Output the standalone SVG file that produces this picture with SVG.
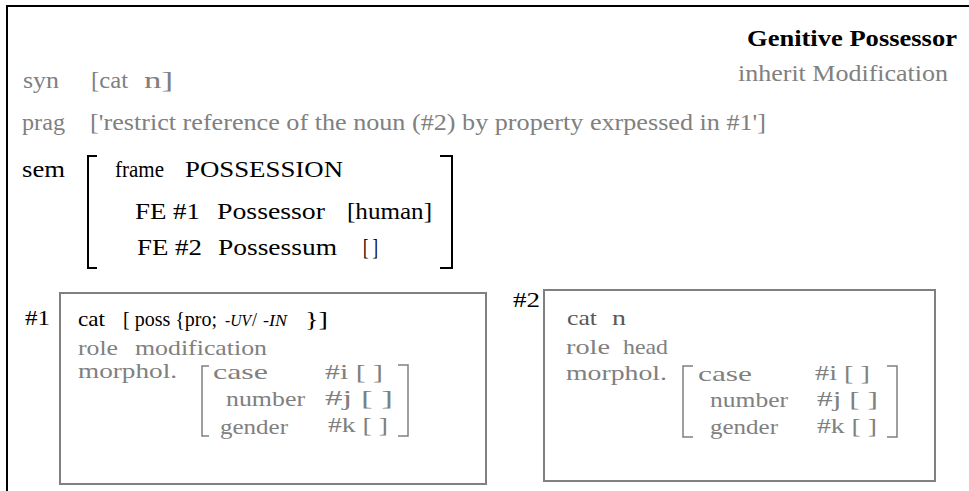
<svg xmlns="http://www.w3.org/2000/svg" width="969" height="491" viewBox="0 0 969 491">
<style>
text{font-family:"Liberation Serif","Times New Roman",serif;font-size:24px;}
.n text{font-size:22px;}
.k{fill:#000;}
.g{fill:#808080;}
.d{fill:#595959;}
.b{font-weight:bold;font-size:24px;}
.n .it{font-style:italic;font-size:16px;}
.frame{fill:none;stroke:#000;stroke-width:2;}
.br{fill:none;stroke:#000;stroke-width:2;}
.gbr{fill:none;stroke:#808080;stroke-width:1.5;}
.box{fill:none;stroke:#808080;stroke-width:2;}
</style>
<rect width="969" height="491" fill="#fff"/>
<g id="frame">
<path class="frame" d="M7 491 V6 H969"/>
</g>
<g id="header">
<text class="k b" x="747" y="46" textLength="210" lengthAdjust="spacingAndGlyphs">Genitive Possessor</text>
<text class="g" x="738" y="81" textLength="210" lengthAdjust="spacingAndGlyphs">inherit Modification</text>
</g>
<g id="syn">
<text class="g" x="23" y="88" textLength="36" lengthAdjust="spacingAndGlyphs">syn</text>
<text class="g" x="91" y="88" textLength="37" lengthAdjust="spacingAndGlyphs">[cat</text>
<text class="g" x="144" y="88" textLength="29" lengthAdjust="spacingAndGlyphs">n]</text>
</g>
<g id="prag">
<text class="g" x="22" y="130" textLength="43" lengthAdjust="spacingAndGlyphs">prag</text>
<text class="g" x="90" y="130" textLength="676" lengthAdjust="spacingAndGlyphs">['restrict reference of the noun (#2) by property exrpessed in #1']</text>
</g>
<g id="sem">
<text class="k" x="22" y="177" textLength="43" lengthAdjust="spacingAndGlyphs">sem</text>
<path class="br" d="M97 156 H88 V268 H97"/>
<path class="br" d="M440 156 H452 V268 H440"/>
<text class="k" x="115" y="177" textLength="49" lengthAdjust="spacingAndGlyphs">frame</text>
<text class="k" x="185" y="177" textLength="158" lengthAdjust="spacingAndGlyphs">POSSESSION</text>
<text class="k" x="135" y="219" textLength="65" lengthAdjust="spacingAndGlyphs">FE #1</text>
<text class="k" x="217" y="219" textLength="108" lengthAdjust="spacingAndGlyphs">Possessor</text>
<text class="k" x="347" y="219" textLength="85" lengthAdjust="spacingAndGlyphs">[human]</text>
<text class="k" x="137" y="255" textLength="65" lengthAdjust="spacingAndGlyphs">FE #2</text>
<text class="k" x="218" y="255" textLength="119" lengthAdjust="spacingAndGlyphs">Possessum</text>
<text class="k" x="363" y="255" textLength="15" lengthAdjust="spacingAndGlyphs">[ ]</text>
</g>
<g id="node1" class="n">
<text class="k" x="25" y="325" textLength="25" lengthAdjust="spacingAndGlyphs">#1</text>
<rect class="box" x="60" y="293" width="426" height="191"/>
<text class="k" x="78" y="326" textLength="27" lengthAdjust="spacingAndGlyphs">cat</text>
<text class="k" x="123" y="326" textLength="94" lengthAdjust="spacingAndGlyphs">[ poss {pro;</text>
<text class="k it" x="225" y="326" textLength="26" lengthAdjust="spacingAndGlyphs">-UV</text>
<text class="k" x="252" y="326" style="font-size:18px">/</text>
<text class="k it" x="263" y="326" textLength="24" lengthAdjust="spacingAndGlyphs">-IN</text>
<text class="k" x="305" y="326" textLength="23" lengthAdjust="spacingAndGlyphs">}]</text>
<text class="g" x="78" y="355" textLength="40" lengthAdjust="spacingAndGlyphs">role</text>
<text class="g" x="135" y="355" textLength="132" lengthAdjust="spacingAndGlyphs">modification</text>
<text class="g" x="78" y="378" textLength="99" lengthAdjust="spacingAndGlyphs">morphol.</text>
<path class="gbr" d="M209 366 H202 V436 H209"/>
<path class="gbr" d="M398 365 H408 V436 H398"/>
<text class="g" x="213" y="379" textLength="55" lengthAdjust="spacingAndGlyphs">case</text>
<text class="g" x="325" y="379" textLength="58" lengthAdjust="spacingAndGlyphs">#i [ ]</text>
<text class="g" x="226" y="406" textLength="79" lengthAdjust="spacingAndGlyphs">number</text>
<text class="g" x="325" y="405" textLength="68" lengthAdjust="spacingAndGlyphs">#j  [ ]</text>
<text class="g" x="220" y="434" textLength="68" lengthAdjust="spacingAndGlyphs">gender</text>
<text class="g" x="328" y="432" textLength="60" lengthAdjust="spacingAndGlyphs">#k [ ]</text>
</g>
<g id="node2" class="n">
<text class="k" x="513" y="307" textLength="27" lengthAdjust="spacingAndGlyphs">#2</text>
<rect class="box" x="544" y="290" width="391" height="191"/>
<text class="d" x="567" y="325" textLength="30" lengthAdjust="spacingAndGlyphs">cat</text>
<text class="d" x="612" y="325" textLength="14" lengthAdjust="spacingAndGlyphs">n</text>
<text class="g" x="566" y="354" textLength="44" lengthAdjust="spacingAndGlyphs">role</text>
<text class="g" x="623" y="354" textLength="45" lengthAdjust="spacingAndGlyphs">head</text>
<text class="g" x="566" y="380" textLength="101" lengthAdjust="spacingAndGlyphs">morphol.</text>
<path class="gbr" d="M693 366 H683 V437 H693"/>
<path class="gbr" d="M887 366 H897 V437 H887"/>
<text class="g" x="698" y="381" textLength="54" lengthAdjust="spacingAndGlyphs">case</text>
<text class="g" x="815" y="380" textLength="55" lengthAdjust="spacingAndGlyphs">#i [ ]</text>
<text class="g" x="710" y="407" textLength="78" lengthAdjust="spacingAndGlyphs">number</text>
<text class="g" x="817" y="406" textLength="61" lengthAdjust="spacingAndGlyphs">#j  [ ]</text>
<text class="g" x="710" y="434" textLength="68" lengthAdjust="spacingAndGlyphs">gender</text>
<text class="g" x="817" y="433" textLength="60" lengthAdjust="spacingAndGlyphs">#k [ ]</text>
</g>
<g id="connectors"></g>
</svg>
